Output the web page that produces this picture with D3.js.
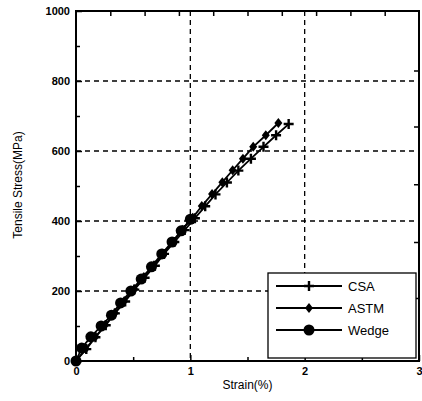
<!DOCTYPE html>
<html>
<head>
<meta charset="utf-8">
<script src="https://cdn.jsdelivr.net/npm/d3@7"></script>
<style>
  body { margin: 0; background: #fff; }
  text { font-family: Arial, "Liberation Sans", sans-serif; }
</style>
</head>
<body>
<script>
// Data (strain in %, stress in MPa)
const csaStrain   = [0, 0.09, 0.17, 0.26, 0.34, 0.43, 0.51, 0.60, 0.69, 0.77, 0.86, 0.95, 1.04, 1.13, 1.22, 1.32, 1.42, 1.53, 1.64, 1.75, 1.86];
const csaStress   = [0, 34, 68, 102, 136, 170, 204, 238, 272, 306, 340, 374, 408, 442, 476, 510, 544, 578, 612, 645, 677];
const astmStrain  = [0, 0.085, 0.17, 0.255, 0.34, 0.42, 0.51, 0.59, 0.68, 0.76, 0.85, 0.93, 1.02, 1.10, 1.19, 1.28, 1.37, 1.46, 1.55, 1.66, 1.77];
const astmStress  = [0, 35, 69, 103, 137, 171, 205, 239, 273, 307, 341, 375, 409, 443, 477, 511, 545, 578, 612, 645, 680];
const wedgeStrain = [0, 0.05, 0.13, 0.22, 0.31, 0.39, 0.48, 0.57, 0.66, 0.75, 0.84, 0.92, 1.0];
const wedgeStress = [0, 37, 69, 100, 131, 166, 200, 234, 269, 306, 340, 372, 405];

const xTicks = [0, 1, 2, 3];
const xMinor = [0.5, 1.5, 2.5];
const yTicks = [0, 200, 400, 600, 800, 1000];
const yMinor = [100, 300, 500, 700, 900];
const topTicks = [0.3, 0.6, 0.9, 1.2, 1.5, 1.8, 2.1, 2.4, 2.7];
const rightTicks = [830, 670, 505, 340, 180];
const seriesNames = ["CSA", "ASTM", "Wedge"];

const width = 422, height = 401;
const margin = { top: 11, right: 3, bottom: 40, left: 76 };
const w = width - margin.left - margin.right,
      h = height - margin.top - margin.bottom;

const svg = d3.select("body").append("svg")
    .attr("width", width)
    .attr("height", height);
const g = svg.append("g")
    .attr("transform", "translate(" + margin.left + "," + margin.top + ")");

const xScale = d3.scaleLinear().domain([0, 3]).range([0, w]);
const yScale = d3.scaleLinear().domain([0, 1000]).range([h, 0]);

// dashed grid
g.selectAll(".gx").data([1, 2]).enter().append("line")
    .attr("x1", d => xScale(d)).attr("x2", d => xScale(d))
    .attr("y1", 0).attr("y2", h)
    .attr("stroke", "#000").attr("stroke-width", 1.3)
    .attr("stroke-dasharray", "5,4");
g.selectAll(".gy").data([200, 400, 600, 800]).enter().append("line")
    .attr("x1", 0).attr("x2", w)
    .attr("y1", d => yScale(d)).attr("y2", d => yScale(d))
    .attr("stroke", "#000").attr("stroke-width", 1.3)
    .attr("stroke-dasharray", "5,4");

// axes (ticks inside)
const xAxis = g.append("g")
    .attr("transform", "translate(0," + h + ")")
    .call(d3.axisBottom(xScale).tickValues(xTicks).tickSizeInner(-6).tickSizeOuter(0).tickPadding(8).tickFormat(d3.format("d")));
g.append("g")
    .attr("transform", "translate(0," + h + ")")
    .call(d3.axisBottom(xScale).tickValues(xMinor).tickSizeInner(-4).tickSizeOuter(0).tickFormat(""));
const yAxis = g.append("g")
    .call(d3.axisLeft(yScale).tickValues(yTicks).tickSizeInner(-6).tickSizeOuter(0).tickPadding(6).tickFormat(d3.format("d")));
g.append("g")
    .call(d3.axisLeft(yScale).tickValues(yMinor).tickSizeInner(-4).tickSizeOuter(0).tickFormat(""));
g.append("g")
    .call(d3.axisTop(xScale).tickValues(topTicks).tickSizeInner(-5).tickSizeOuter(0).tickFormat(""));
g.append("g")
    .attr("transform", "translate(" + w + ",0)")
    .call(d3.axisRight(yScale).tickValues(rightTicks).tickSizeInner(-5).tickSizeOuter(0).tickFormat(""));

g.selectAll(".domain").remove();
g.selectAll(".tick line").attr("stroke", "#000").attr("stroke-width", 1.5);
g.selectAll(".tick text")
    .attr("font-size", 11).attr("font-weight", "bold").attr("fill", "#000");
xAxis.selectAll(".tick text").attr("dy", "0.5em");

// frame
g.append("rect")
    .attr("x", 0).attr("y", 0).attr("width", w).attr("height", h)
    .attr("fill", "none").attr("stroke", "#000").attr("stroke-width", 2);

// markers
function drawMarker(sel, name) {
  if (name === "CSA") {
    sel.append("path").attr("d", "M-5,0H5M0,-5V5")
      .attr("stroke", "#000").attr("stroke-width", 2.4);
  } else if (name === "ASTM") {
    sel.append("path").attr("d", "M0,-5L4,0L0,5L-4,0Z").attr("fill", "#000");
  } else {
    sel.append("circle").attr("r", 5.5).attr("fill", "#000");
  }
}

const series = [
  { name: "CSA", xs: csaStrain, ys: csaStress },
  { name: "ASTM", xs: astmStrain, ys: astmStress },
  { name: "Wedge", xs: wedgeStrain, ys: wedgeStress }
];

const line = d3.line().x(d => xScale(d[0])).y(d => yScale(d[1]));

series.forEach(function(s) {
  const pts = s.xs.map((x, i) => [x, s.ys[i]]);
  g.append("path").datum(pts)
    .attr("d", line)
    .attr("fill", "none").attr("stroke", "#000").attr("stroke-width", 1.8);
  g.selectAll(".m-" + s.name).data(pts).enter().append("g")
    .attr("transform", d => "translate(" + xScale(d[0]) + "," + yScale(d[1]) + ")")
    .each(function() { drawMarker(d3.select(this), s.name); });
});

// legend
const legend = g.append("g").attr("transform", "translate(" + (268 - margin.left) + "," + (273 - margin.top) + ")");
legend.append("rect")
    .attr("width", 148).attr("height", 85)
    .attr("fill", "#fff").attr("stroke", "#000").attr("stroke-width", 1.3);
const entries = legend.selectAll(".legend").data(seriesNames).enter().append("g")
    .attr("transform", (d, i) => "translate(0," + (13 + i * 22) + ")");
entries.append("line")
    .attr("x1", 8).attr("x2", 74)
    .attr("stroke", "#000").attr("stroke-width", 1.8);
entries.append("g").attr("transform", "translate(41,0)")
    .each(function(d) { drawMarker(d3.select(this), d); });
entries.append("text")
    .attr("x", 80).attr("y", 5)
    .attr("font-size", 13)
    .text(d => d);

// axis titles
svg.append("text")
    .attr("x", margin.left + w / 2).attr("y", 389)
    .attr("text-anchor", "middle").attr("font-size", 12)
    .text("Strain(%)");
svg.append("text")
    .attr("transform", "translate(22," + (margin.top + h / 2 - 1) + ") rotate(-90)")
    .attr("text-anchor", "middle").attr("font-size", 12)
    .text("Tensile Stress(MPa)");
</script>
</body>
</html>
